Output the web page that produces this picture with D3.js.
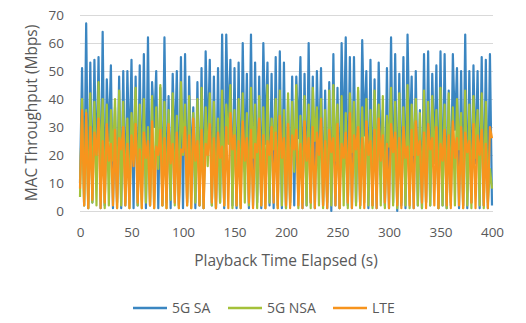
<!DOCTYPE html>
<html>
<head>
<meta charset="utf-8">
<script src="https://cdn.jsdelivr.net/npm/d3@7"></script>
<style>
  body { margin: 0; background: #fff; }
  svg text { font-family: "Open Sans", sans-serif; fill: #595959; }
</style>
</head>
<body>
<svg id="chart" width="526" height="323"></svg>
<script>
// sample times, every 2 s over the playback
const times = d3.range(0, 401, 2);

const seriesNames = ["5G SA", "5G NSA", "LTE"];
const seriesColors = ["#3B86C1", "#A4C13A", "#F7941D"];

// MAC throughput (Mbps)
const sa = [
  10,51, 2,67, 1,53, 3,54, 12,55, 1,64, 2,47, 25,52, 1,37, 3,48,
  1,50, 2,50, 18,54, 1,48, 2,52, 4,56, 1,62, 2,46, 30,50, 1,44,
  2,62, 3,41, 1,49, 20,50, 2,55, 1,56, 3,48, 15,37, 1,46, 2,51,
  1,57, 22,54, 2,48, 1,51, 3,63, 1,63, 28,54, 2,51, 1,53, 2,60,
  14,49, 1,63, 2,53, 3,48, 1,60, 24,53, 2,49, 1,55, 2,57, 1,53,
  1,40, 3,48, 2,48, 26,55, 1,49, 2,60, 3,48, 1,50, 19,51, 2,43,
  1,46, 0,56, 2,44, 1,60, 21,62, 2,55, 1,55, 3,43, 2,61, 27,50,
  1,54, 2,47, 1,53, 16,36, 2,51, 1,62, 3,56, 0,49, 2,55, 1,63,
  23,48, 1,50, 2,36, 1,56, 3,57, 2,49, 18,52, 1,57, 2,56, 1,43,
  2,56, 29,51, 1,50, 2,63, 1,50, 3,52, 17,50, 1,55, 2,54, 1,56,
  2
];

const nsa = [
  5,40, 2,36, 1,42, 3,39, 2,46, 12,40, 1,38, 2,36, 18,40, 1,43,
  2,39, 3,33, 1,35, 22,44, 2,38, 1,40, 3,30, 2,41, 1,37, 15,45,
  2,39, 1,36, 4,42, 2,34, 1,46, 20,38, 2,41, 1,35, 3,40, 2,44,
  1,37, 16,42, 2,39, 1,33, 3,43, 2,38, 24,45, 1,36, 2,40, 1,42,
  3,35, 2,44, 19,38, 1,41, 2,37, 1,45, 3,33, 22,40, 1,43, 2,36,
  1,42, 2,39, 14,45, 1,34, 3,41, 2,38, 1,44, 25,37, 2,40, 1,36,
  3,43, 2,45, 18,38, 1,41, 2,35, 1,42, 21,39, 2,44, 1,37, 3,40,
  2,36, 1,43, 16,38, 2,41, 1,34, 23,44, 2,39, 1,42, 3,37, 2,45,
  1,38, 20,40, 2,35, 1,43, 3,39, 2,41, 17,36, 1,44, 2,38, 1,42,
  3,37, 2,40, 22,35, 1,43, 2,38, 1,41, 19,36, 2,42, 1,39, 3,15,
  8
];

const lte = [
  8,36, 2,35, 1,30, 4,28, 20,33, 1,25, 3,31, 18,24, 2,29, 1,26,
  22,30, 2,24, 1,27, 16,31, 3,22, 1,28, 19,25, 2,32, 1,23, 20,29,
  2,26, 1,31, 17,24, 3,28, 1,22, 21,30, 2,27, 1,33, 18,25, 2,29,
  1,24, 20,31, 3,26, 1,28, 19,23, 2,30, 1,35, 22,27, 2,25, 1,32,
  18,26, 3,29, 1,24, 21,33, 2,27, 1,25, 20,30, 3,28, 1,34, 19,26,
  2,31, 1,27, 22,29, 2,24, 1,32, 18,26, 3,30, 1,28, 20,33, 2,25,
  1,29, 21,26, 2,31, 1,24, 19,28, 3,35, 1,27, 22,30, 2,26, 1,32,
  20,25, 2,29, 1,33, 18,27, 3,24, 1,31, 21,28, 2,26, 1,30, 19,23,
  2,29, 1,32, 20,25, 3,28, 1,31, 22,26, 2,30, 1,24, 18,29, 2,27,
  1,32, 19,26, 2,30, 1,28, 21,25, 3,31, 1,27, 20,29, 2,24, 1,30,
  26
];

const xTicks = [0, 50, 100, 150, 200, 250, 300, 350, 400];
const yTicks = [0, 10, 20, 30, 40, 50, 60, 70];

const svg = d3.select("#chart");
const plotLeft = 80, plotRight = 492, plotTop = 15, plotBottom = 211;

const x = d3.scaleLinear().domain([0, 400]).range([plotLeft, plotRight]);
const y = d3.scaleLinear().domain([0, 70]).range([plotBottom, plotTop]);

// y axis with gridlines
const yAxis = svg.append("g")
  .attr("transform", `translate(${plotLeft},0)`)
  .call(d3.axisLeft(y).tickValues(yTicks).tickSize(-(plotRight - plotLeft + 1)).tickPadding(16));
yAxis.select(".domain").remove();
yAxis.selectAll(".tick line").attr("stroke", "#d9d9d9").attr("stroke-width", 1);
yAxis.selectAll(".tick text").style("font-size", "13.5px").attr("fill", "#595959");

// x axis labels only
const xAxis = svg.append("g")
  .attr("transform", `translate(0,${plotBottom})`)
  .call(d3.axisBottom(x).tickValues(xTicks).tickSize(0).tickPadding(16));
xAxis.select(".domain").remove();
xAxis.selectAll(".tick text").style("font-size", "13.5px").attr("fill", "#595959");

const line = d3.line()
  .x((d, i) => x(times[i]))
  .y(d => y(d));

[sa, nsa, lte].forEach((vals, k) => {
  svg.append("path")
    .datum(vals)
    .attr("d", line)
    .attr("fill", "none")
    .attr("stroke", seriesColors[k])
    .attr("stroke-width", 2.2)
    .attr("stroke-linejoin", "round");
});

// axis titles
svg.append("text")
  .attr("transform", "translate(37,113) rotate(-90)")
  .attr("text-anchor", "middle")
  .style("font-size", "15.5px")
  .text("MAC Throughput (Mbps)");

svg.append("text")
  .attr("x", 286)
  .attr("y", 266)
  .attr("text-anchor", "middle")
  .style("font-size", "15.5px")
  .text("Playback Time Elapsed (s)");

// legend
const legendX = [133, 228, 333];
const legend = svg.append("g");
seriesNames.forEach((name, k) => {
  legend.append("line")
    .attr("x1", legendX[k]).attr("x2", legendX[k] + 34)
    .attr("y1", 308).attr("y2", 308)
    .attr("stroke", seriesColors[k])
    .attr("stroke-width", 2.5);
  legend.append("text")
    .attr("x", legendX[k] + 39)
    .attr("y", 313)
    .style("font-size", "14px")
    .text(name);
});
</script>
</body>
</html>
